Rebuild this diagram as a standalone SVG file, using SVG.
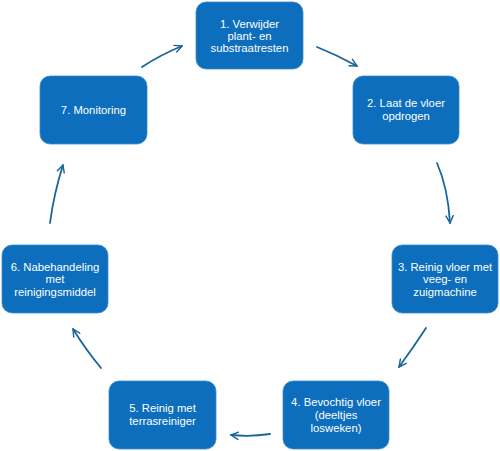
<svg xmlns="http://www.w3.org/2000/svg" width="500" height="451" viewBox="0 0 500 451">
<style>
.box{fill:#0D6EBD;stroke:#3E8BCB;stroke-width:0.8}
.t{font-family:"Liberation Sans",Arial,sans-serif;font-size:11.3px;fill:#fff;text-anchor:middle}
.c{fill:none;stroke:#1A659A;stroke-width:1.8;stroke-linecap:round;marker-end:url(#ah)}
</style>
<defs>
<marker id="ah" viewBox="0 0 10 10" refX="9" refY="5" markerWidth="5" markerHeight="5" orient="auto" markerUnits="strokeWidth">
<path d="M1,1 L9,5 L1,9" fill="none" stroke="#1A659A" stroke-width="1.6" stroke-linecap="round" stroke-linejoin="round"/>
</marker>
</defs>
<rect width="500" height="451" fill="#fff"/>
<g id="connectors">
<path class="c" d="M317,47 Q337,55 357,66"/>
<path class="c" d="M437,163 Q448,188 450,223"/>
<path class="c" d="M426,328 Q413,348 399,367"/>
<path class="c" d="M270,434 Q250,437 231,435"/>
<path class="c" d="M101,368 Q86,350 73,329"/>
<path class="c" d="M50,223 Q54,193 63,165"/>
<path class="c" d="M142,67 Q160,55 182,46"/>
</g>
<g id="n1"><rect class="box" x="196" y="2" width="107" height="67" rx="10"/>
<text class="t" x="249.5" y="28">1. Verwijder</text><text class="t" x="249.5" y="40">plant- en</text><text class="t" x="249.5" y="52">substraatresten</text></g>
<g id="n2"><rect class="box" x="353" y="76" width="106" height="68" rx="10"/>
<text class="t" x="406" y="107">2. Laat de vloer</text><text class="t" x="406" y="120">opdrogen</text></g>
<g id="n3"><rect class="box" x="392" y="245" width="106" height="68" rx="10"/>
<text class="t" x="445" y="271">3. Reinig vloer met</text><text class="t" x="445" y="283">veeg- en</text><text class="t" x="445" y="296">zuigmachine</text></g>
<g id="n4"><rect class="box" x="283" y="381" width="106" height="68" rx="10"/>
<text class="t" x="336" y="406">4. Bevochtig vloer</text><text class="t" x="336" y="419">(deeltjes</text><text class="t" x="336" y="432">losweken)</text></g>
<g id="n5"><rect class="box" x="109" y="381" width="107" height="68" rx="10"/>
<text class="t" x="162.5" y="412">5. Reinig met</text><text class="t" x="162.5" y="425">terrasreiniger</text></g>
<g id="n6"><rect class="box" x="2" y="245" width="106" height="68" rx="10"/>
<text class="t" x="55" y="271">6. Nabehandeling</text><text class="t" x="55" y="283">met</text><text class="t" x="55" y="296">reinigingsmiddel</text></g>
<g id="n7"><rect class="box" x="40" y="76" width="107" height="68" rx="10"/>
<text class="t" x="93.5" y="114">7. Monitoring</text></g>
</svg>
